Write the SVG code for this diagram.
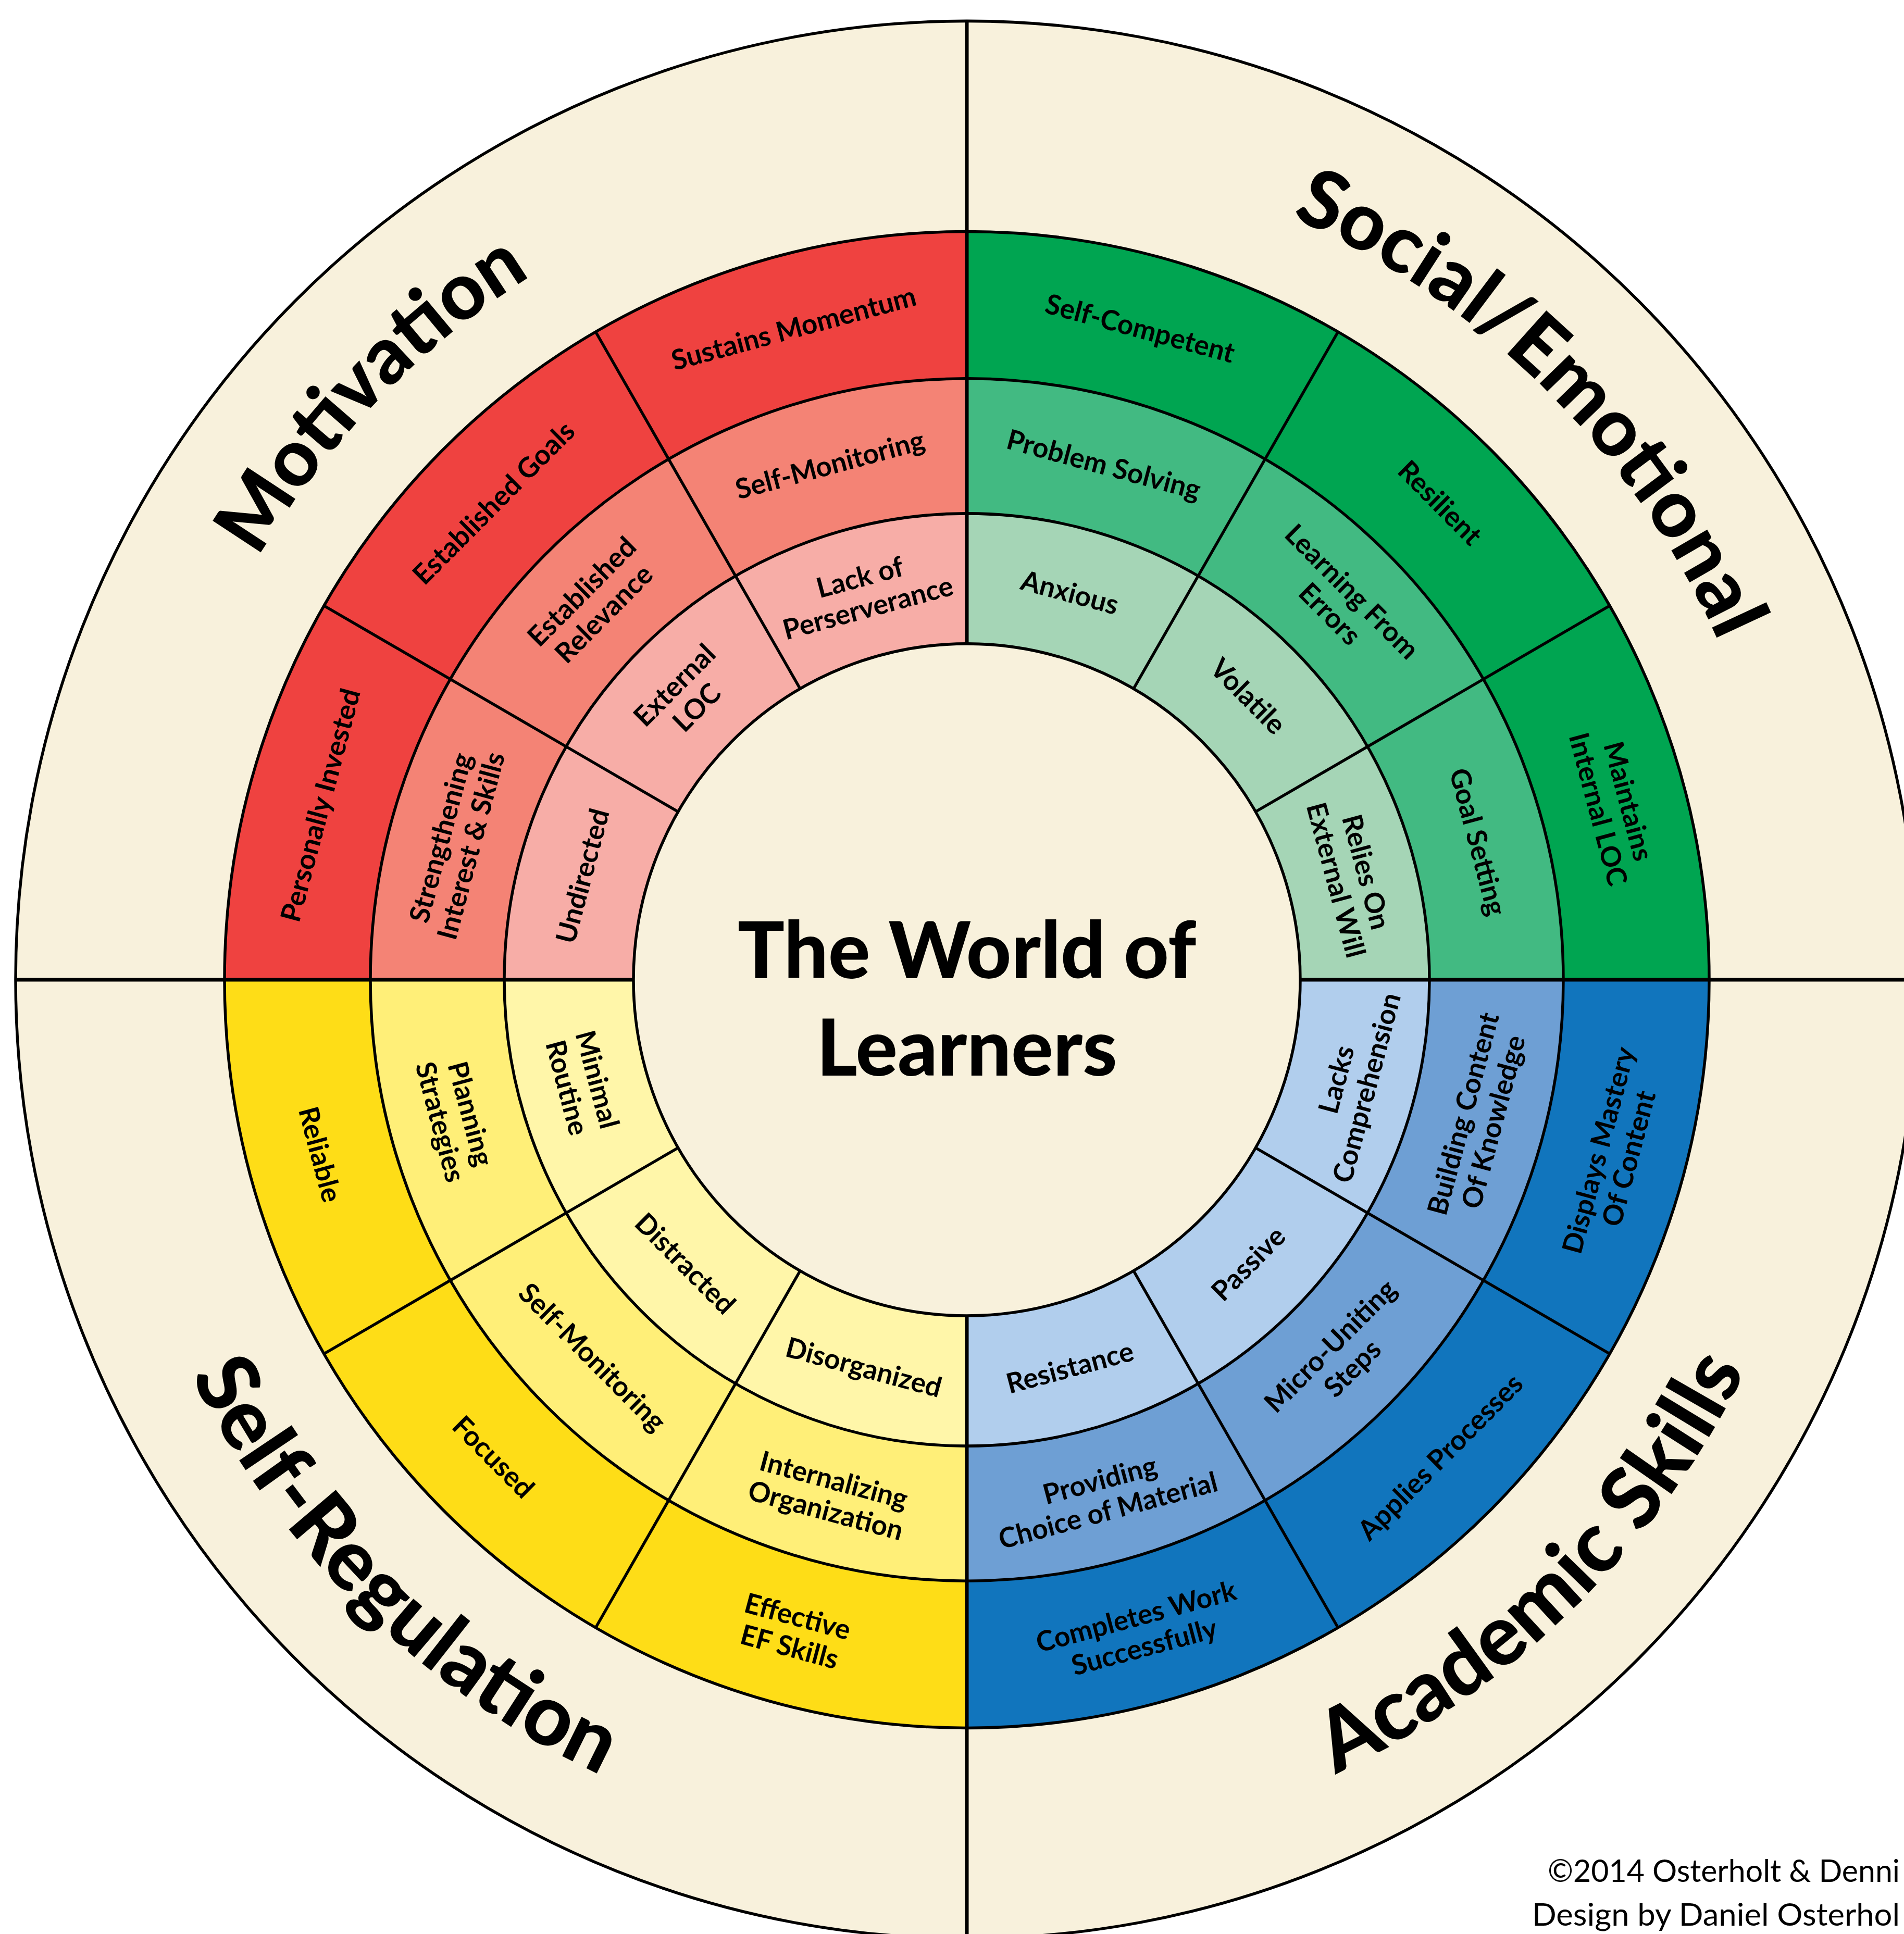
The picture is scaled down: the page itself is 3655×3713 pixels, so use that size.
<svg xmlns="http://www.w3.org/2000/svg" xmlns:xlink="http://www.w3.org/1999/xlink" width="3655" height="3713" viewBox="0 0 3655 3713">
<style>
.lbl{font-family:Lato,"Open Sans","Liberation Sans",sans-serif;font-weight:700;font-size:53px;text-anchor:middle;fill:#000}
.ttl{font-family:Lato,"Open Sans","Liberation Sans",sans-serif;font-weight:900;font-size:158px;fill:#000}
.ctr{font-family:Lato,"Open Sans","Liberation Sans",sans-serif;font-weight:900;font-size:150px;text-anchor:middle;fill:#000}
.copy{font-family:Lato,"Open Sans","Liberation Sans",sans-serif;font-weight:400;font-size:60px;fill:#000}
.ring{fill:none;stroke:#000;stroke-width:5.5}
.rad{stroke:#000;stroke-width:5.5}
.quad{stroke:#000;stroke-width:7}
</style>
<defs>
<path id="secO" d="M -1425,0 A 1425 1425 0 0 1 0,-1425 L 0,-1145 A 1145 1145 0 0 0 -1145,0 Z"/>
<path id="secM" d="M -1145,0 A 1145 1145 0 0 1 0,-1145 L 0,-888 A 888 888 0 0 0 -888,0 Z"/>
<path id="secI" d="M -888,0 A 888 888 0 0 1 0,-888 L 0,-640 A 640 640 0 0 0 -640,0 Z"/>
<path id="topArc" d="M -1368.3,-790 A 1580 1580 0 0 1 1368.3,-790"/>
<path id="botArc" d="M -1446.2,835 A 1670 1670 0 0 0 1446.2,835"/>
</defs>
<rect width="3655" height="3713" fill="#fff"/>
<g id="wheel" transform="translate(1856,1881) scale(1,1.008)">
  <circle id="outer-band" cx="0" cy="0" r="1826" fill="#F8F1DC" stroke="#000" stroke-width="5.5"/>
  <g id="motivation-sectors">
    <use href="#secO" fill="#EF4240"/>
    <use href="#secM" fill="#F48375"/>
    <use href="#secI" fill="#F7ADA7"/>
  </g>
  <g id="social-sectors" transform="rotate(90)">
    <use href="#secO" fill="#00A551"/>
    <use href="#secM" fill="#42BA82"/>
    <use href="#secI" fill="#A5D5B6"/>
  </g>
  <g id="academic-sectors" transform="rotate(180)">
    <use href="#secO" fill="#1175BD"/>
    <use href="#secM" fill="#6E9FD4"/>
    <use href="#secI" fill="#B1CEED"/>
  </g>
  <g id="selfreg-sectors" transform="rotate(270)">
    <use href="#secO" fill="#FEDD17"/>
    <use href="#secM" fill="#FFEF78"/>
    <use href="#secI" fill="#FFF6A9"/>
  </g>
  <circle id="center" cx="0" cy="0" r="640" fill="#F8F1DC"/>
  <g id="connectors">
    <circle class="ring" r="1425"/>
    <circle class="ring" r="1145"/>
    <circle class="ring" r="888"/>
    <circle class="ring" r="640"/>
    <line class="rad" x1="0" y1="-640" x2="0" y2="-1425" transform="rotate(30)"/>
    <line class="rad" x1="0" y1="-640" x2="0" y2="-1425" transform="rotate(60)"/>
    <line class="rad" x1="0" y1="-640" x2="0" y2="-1425" transform="rotate(120)"/>
    <line class="rad" x1="0" y1="-640" x2="0" y2="-1425" transform="rotate(150)"/>
    <line class="rad" x1="0" y1="-640" x2="0" y2="-1425" transform="rotate(210)"/>
    <line class="rad" x1="0" y1="-640" x2="0" y2="-1425" transform="rotate(240)"/>
    <line class="rad" x1="0" y1="-640" x2="0" y2="-1425" transform="rotate(300)"/>
    <line class="rad" x1="0" y1="-640" x2="0" y2="-1425" transform="rotate(330)"/>
    <line class="quad" x1="0" y1="-640" x2="0" y2="-1826"/>
    <line class="quad" x1="0" y1="640" x2="0" y2="1840"/>
    <line class="quad" x1="-640" y1="0" x2="-1826" y2="0"/>
    <line class="quad" x1="640" y1="0" x2="1840" y2="0"/>
  </g>
  <g id="titles">
    <text id="t-motivation" class="ttl" style="font-size:152px" transform="rotate(-45.7)"><textPath href="#topArc" startOffset="50%" text-anchor="middle">Motivation</textPath></text>
    <text id="t-social" class="ttl" style="font-size:154px" transform="rotate(44.6)"><textPath href="#topArc" startOffset="50%" text-anchor="middle">Social/Emotional</textPath></text>
    <text id="t-academic" class="ttl" style="font-size:162px" transform="rotate(-44.3)"><textPath href="#botArc" startOffset="50%" text-anchor="middle">Academic Skills</textPath></text>
    <text id="t-selfreg" class="ttl" style="font-size:162px" transform="rotate(44)"><textPath href="#botArc" startOffset="50%" text-anchor="middle">Self-Regulation</textPath></text>
  </g>
  <g id="motivation-labels">
    <g id="n-sustains" transform="rotate(-15) translate(0,-1285)"><text class="lbl" y="19">Sustains Momentum</text></g>
    <g id="n-estgoals" transform="rotate(-45) translate(0,-1285)"><text class="lbl" y="19">Established Goals</text></g>
    <g id="n-personally" transform="rotate(-75) translate(0,-1285)"><text class="lbl" y="19">Personally Invested</text></g>
    <g id="n-selfmon1" transform="rotate(-15) translate(0,-1016)"><text class="lbl" y="19">Self-Monitoring</text></g>
    <g id="n-estrel" transform="rotate(-45) translate(0,-1016)"><text class="lbl"><tspan x="0" y="-11">Established</tspan><tspan x="0" y="49">Relevance</tspan></text></g>
    <g id="n-strength" transform="rotate(-75) translate(0,-1016)"><text class="lbl"><tspan x="0" y="-11">Strengthening</tspan><tspan x="0" y="49">Interest &amp; Skills</tspan></text></g>
    <g id="n-lack" transform="rotate(-15) translate(0,-764)"><text class="lbl"><tspan x="0" y="-11">Lack of</tspan><tspan x="0" y="49">Perserverance</tspan></text></g>
    <g id="n-extloc" transform="rotate(-45) translate(0,-764)"><text class="lbl"><tspan x="0" y="-11">External</tspan><tspan x="0" y="49">LOC</tspan></text></g>
    <g id="n-undirected" transform="rotate(-75) translate(0,-764)"><text class="lbl" y="19">Undirected</text></g>
  </g>
  <g id="social-labels">
    <g id="n-selfcomp" transform="rotate(15) translate(0,-1285)"><text class="lbl" y="19">Self-Competent</text></g>
    <g id="n-resilient" transform="rotate(45) translate(0,-1285)"><text class="lbl" y="19">Resilient</text></g>
    <g id="n-maintains" transform="rotate(75) translate(0,-1285)"><text class="lbl"><tspan x="0" y="-11">Maintains</tspan><tspan x="0" y="49">Internal LOC</tspan></text></g>
    <g id="n-problem" transform="rotate(15) translate(0,-1016)"><text class="lbl" y="19">Problem Solving</text></g>
    <g id="n-learning" transform="rotate(45) translate(0,-1016)"><text class="lbl"><tspan x="0" y="-11">Learning From</tspan><tspan x="0" y="49">Errors</tspan></text></g>
    <g id="n-goal" transform="rotate(75) translate(0,-1016)"><text class="lbl" y="19">Goal Setting</text></g>
    <g id="n-anxious" transform="rotate(15) translate(0,-764)"><text class="lbl" y="19">Anxious</text></g>
    <g id="n-volatile" transform="rotate(45) translate(0,-764)"><text class="lbl" y="19">Volatile</text></g>
    <g id="n-relies" transform="rotate(75) translate(0,-764)"><text class="lbl"><tspan x="0" y="-11">Relies On</tspan><tspan x="0" y="49">External Will</tspan></text></g>
  </g>
  <g id="academic-labels">
    <g id="n-displays" transform="rotate(105) translate(0,-1285) rotate(180)"><text class="lbl"><tspan x="0" y="-11">Displays Mastery</tspan><tspan x="0" y="49">Of Content</tspan></text></g>
    <g id="n-applies" transform="rotate(135) translate(0,-1285) rotate(180)"><text class="lbl" y="19">Applies Processes</text></g>
    <g id="n-completes" transform="rotate(165) translate(0,-1285) rotate(180)"><text class="lbl"><tspan x="0" y="-11">Completes Work</tspan><tspan x="0" y="49">Successfully</tspan></text></g>
    <g id="n-building" transform="rotate(105) translate(0,-1016) rotate(180)"><text class="lbl"><tspan x="0" y="-11">Building Content</tspan><tspan x="0" y="49">Of Knowledge</tspan></text></g>
    <g id="n-micro" transform="rotate(135) translate(0,-1016) rotate(180)"><text class="lbl"><tspan x="0" y="-11">Micro-Uniting</tspan><tspan x="0" y="49">Steps</tspan></text></g>
    <g id="n-providing" transform="rotate(165) translate(0,-1016) rotate(180)"><text class="lbl"><tspan x="0" y="-11">Providing</tspan><tspan x="0" y="49">Choice of Material</tspan></text></g>
    <g id="n-lacks" transform="rotate(105) translate(0,-764) rotate(180)"><text class="lbl"><tspan x="0" y="-11">Lacks</tspan><tspan x="0" y="49">Comprehension</tspan></text></g>
    <g id="n-passive" transform="rotate(135) translate(0,-764) rotate(180)"><text class="lbl" y="19">Passive</text></g>
    <g id="n-resistance" transform="rotate(165) translate(0,-764) rotate(180)"><text class="lbl" y="19">Resistance</text></g>
  </g>
  <g id="selfreg-labels">
    <g id="n-effective" transform="rotate(195) translate(0,-1285) rotate(180)"><text class="lbl"><tspan x="0" y="-11">Effective</tspan><tspan x="0" y="49">EF Skills</tspan></text></g>
    <g id="n-focused" transform="rotate(225) translate(0,-1285) rotate(180)"><text class="lbl" y="19">Focused</text></g>
    <g id="n-reliable" transform="rotate(255) translate(0,-1285) rotate(180)"><text class="lbl" y="19">Reliable</text></g>
    <g id="n-internal" transform="rotate(195) translate(0,-1016) rotate(180)"><text class="lbl"><tspan x="0" y="-11">Internalizing</tspan><tspan x="0" y="49">Organization</tspan></text></g>
    <g id="n-selfmon2" transform="rotate(225) translate(0,-1016) rotate(180)"><text class="lbl" y="19">Self-Monitoring</text></g>
    <g id="n-planning" transform="rotate(255) translate(0,-1016) rotate(180)"><text class="lbl"><tspan x="0" y="-11">Planning</tspan><tspan x="0" y="49">Strategies</tspan></text></g>
    <g id="n-disorg" transform="rotate(195) translate(0,-764) rotate(180)"><text class="lbl" y="19">Disorganized</text></g>
    <g id="n-distracted" transform="rotate(225) translate(0,-764) rotate(180)"><text class="lbl" y="19">Distracted</text></g>
    <g id="n-minimal" transform="rotate(255) translate(0,-764) rotate(180)"><text class="lbl"><tspan x="0" y="-11">Minimal</tspan><tspan x="0" y="49">Routine</tspan></text></g>
  </g>
</g>
<g id="center-title">
  <text class="ctr" x="1856" y="1878">The World of</text>
  <text class="ctr" x="1856" y="2065">Learners</text>
</g>
<g id="credits">
  <text class="copy" x="2971" y="3613" textLength="676" lengthAdjust="spacingAndGlyphs">©2014 Osterholt &amp; Denni</text>
  <text class="copy" x="2941" y="3697" textLength="706" lengthAdjust="spacingAndGlyphs">Design by Daniel Osterhol</text>
</g>
</svg>
